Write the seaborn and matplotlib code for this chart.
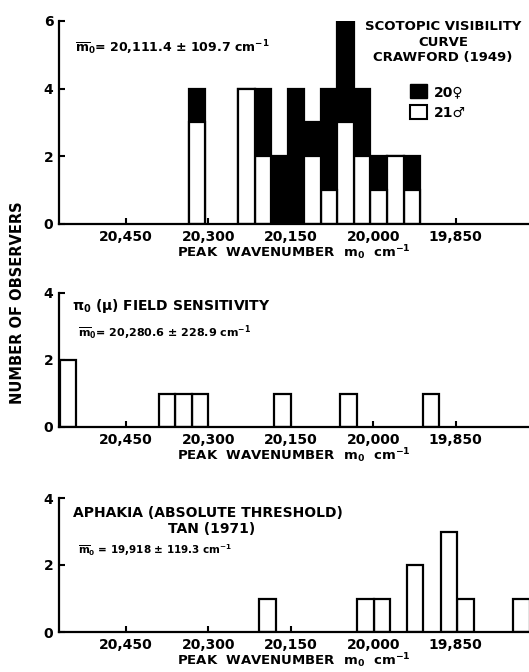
import pandas as pd
import seaborn as sns
import matplotlib.pyplot as plt
from matplotlib.patches import Patch

# scotopic visibility curve, Crawford (1949): bin centres (cm^-1) and counts
scot_centers = [20320, 20230, 20200, 20170, 20140, 20110, 20080, 20050, 20020, 19990, 19960, 19930]
scot_male = [3, 4, 2, 0, 0, 2, 1, 3, 2, 1, 2, 1]
scot_female = [1, 0, 2, 2, 4, 1, 3, 3, 2, 1, 0, 1]

# pi0(mu) field sensitivity
field_centers = [20555, 20375, 20345, 20315, 20165, 20045, 19895]
field_counts = [2, 1, 1, 1, 1, 1, 1]

# aphakia (absolute threshold), Tan (1971)
aph_centers = [20192, 20014, 19984, 19924, 19862, 19832, 19731]
aph_counts = [1, 1, 1, 2, 3, 1, 1]

xtick_vals = [20450, 20300, 20150, 20000, 19850]
xtick_labels = ['20,450', '20,300', '20,150', '20,000', '19,850']

sns.set_style('ticks')
plt.rcParams['font.family'] = ['DejaVu Sans']
plt.rcParams['font.weight'] = 'bold'
plt.rcParams['axes.labelweight'] = 'bold'
plt.rcParams['mathtext.fontset'] = 'dejavusans'
plt.rcParams['mathtext.default'] = 'bf'
for key in ['text.color', 'axes.labelcolor', 'xtick.color', 'ytick.color', 'axes.edgecolor']:
    plt.rcParams[key] = 'black'

fig = plt.figure(figsize=(5.29, 6.72), dpi=100)
W, H = 529, 672


def make_ax(top, bottom):
    return fig.add_axes([59 / W, 1 - bottom / H, (W - 59) / W, (bottom - top) / H])


def style_ax(ax, ymax):
    ax.set_xlim(20571, 19717)
    ax.set_ylim(0, ymax)
    ax.set_yticks(range(0, ymax + 1, 2))
    ax.set_xticks(xtick_vals)
    ax.set_xticklabels(xtick_labels)
    ax.tick_params(direction='in', length=4, width=1.5, labelsize=10, pad=4)
    ax.set_xlabel(r'PEAK  WAVENUMBER  $m_0$  cm$^{-1}$', fontsize=9.5, labelpad=0)
    ax.set_ylabel('')
    for s in ['left', 'bottom']:
        ax.spines[s].set_linewidth(1.6)
    sns.despine(ax=ax)
    ax.patch.set_alpha(0)


bar_kw = dict(native_scale=True, width=1, orient='x', errorbar=None,
              edgecolor='black', linewidth=1.6)

# panel 1
ax1 = make_ax(21, 224)
scot = pd.DataFrame({'m0': scot_centers, 'male': scot_male, 'female': scot_female})
scot['total'] = scot['male'] + scot['female']
sns.barplot(data=scot, x='m0', y='total', color='black', ax=ax1, **bar_kw)
sns.barplot(data=scot, x='m0', y='male', color='white', ax=ax1, **bar_kw)
style_ax(ax1, 6)
ax1.text(0.035, 0.87, r'$\overline{m}_0$= 20,111.4 ± 109.7 cm$^{-1}$', fontsize=9,
         transform=ax1.transAxes, va='center')
fig.text(443 / W, 1 - 42 / H, 'SCOTOPIC VISIBILITY\nCURVE\nCRAWFORD (1949)',
         ha='center', va='center', multialignment='center', fontsize=9.5, linespacing=1.2)
handles = [Patch(facecolor='black', edgecolor='black'),
           Patch(facecolor='white', edgecolor='black', linewidth=1.5)]
ax1.legend(handles, ['20♀', '21♂'], frameon=False, fontsize=10,
           loc='upper left', bbox_to_anchor=(410 / W, 1 - 84 / H),
           bbox_transform=fig.transFigure, handlelength=1.2, handleheight=1.2,
           handletextpad=0.5, labelspacing=0.45, borderaxespad=0, borderpad=0)

# panel 2
ax2 = make_ax(293, 427)
field = pd.DataFrame({'m0': field_centers, 'count': field_counts})
sns.barplot(data=field, x='m0', y='count', color='white', ax=ax2, **bar_kw)
style_ax(ax2, 4)
ax2.text(0.028, 0.90, r'$\pi_0$ ($\mu$) FIELD SENSITIVITY', fontsize=10,
         transform=ax2.transAxes, va='center')
ax2.text(0.04, 0.70, r'$\overline{m}_0$= 20,280.6 ± 228.9 cm$^{-1}$', fontsize=8,
         transform=ax2.transAxes, va='center')

# panel 3
ax3 = make_ax(498, 632)
aph = pd.DataFrame({'m0': aph_centers, 'count': aph_counts})
sns.barplot(data=aph, x='m0', y='count', color='white', ax=ax3, **bar_kw)
style_ax(ax3, 4)
ax3.text(0.03, 0.89, 'APHAKIA (ABSOLUTE THRESHOLD)', fontsize=10,
         transform=ax3.transAxes, va='center')
ax3.text(0.325, 0.77, 'TAN (1971)', fontsize=10, ha='center',
         transform=ax3.transAxes, va='center')
ax3.text(0.04, 0.61, r'$\overline{m}_0$ = 19,918 ± 119.3 cm$^{-1}$', fontsize=7.5,
         transform=ax3.transAxes, va='center')

fig.text(18 / W, 1 - 303 / H, 'NUMBER OF OBSERVERS', rotation=90,
         ha='center', va='center', fontsize=10.5)

fig.savefig('out.png', dpi=100)
